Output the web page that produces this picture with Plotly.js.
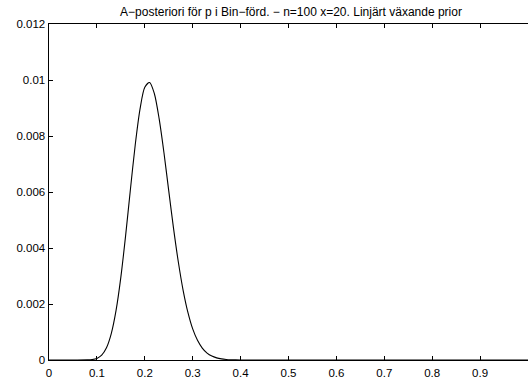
<!DOCTYPE html>
<html>
<head>
<meta charset="utf-8">
<script src="https://cdn.plot.ly/plotly-3.0.1.min.js"></script>
<style>html,body{margin:0;padding:0;background:#fff;}#chart{width:528px;height:378px;}</style>
</head>
<body>
<div id="chart"></div>
<script>
// p values (x) and posterior probabilities
const pValues = [0, 0.05, 0.08, 0.09, 0.10, 0.11, 0.12, 0.13, 0.14, 0.15, 0.16, 0.17, 0.18, 0.19, 0.20,
  0.21, 0.22, 0.23, 0.24, 0.25, 0.26, 0.27, 0.28, 0.29, 0.30, 0.31, 0.32, 0.33, 0.34, 0.35,
  0.36, 0.37, 0.38, 0.39, 0.40, 0.5, 0.6, 0.7, 0.8, 0.9, 1.0];
const posterior = [0, 0, 0.000003, 0.000015, 0.000058, 0.000174, 0.000437, 0.000943, 0.00177, 0.00296,
  0.00445, 0.00610, 0.00768, 0.00896, 0.00974, 0.00991, 0.00951, 0.00861, 0.00740, 0.00604,
  0.00470, 0.00350, 0.00249, 0.00170, 0.00111, 0.000702, 0.000426, 0.000248, 0.000139, 0.0000756,
  0.000039, 0.0000195, 0.0000094, 0.0000044, 0.000002, 0, 0, 0, 0, 0, 0];
const xTickVals = [0, 0.1, 0.2, 0.3, 0.4, 0.5, 0.6, 0.7, 0.8, 0.9];
const xTickText = ["0", "0.1", "0.2", "0.3", "0.4", "0.5", "0.6", "0.7", "0.8", "0.9"];
const yTickVals = [0, 0.002, 0.004, 0.006, 0.008, 0.01, 0.012];
const yTickText = ["0", "0.002", "0.004", "0.006", "0.008", "0.01", "0.012"];
const titleText = "A\u2212posteriori för p i Bin\u2212förd. \u2212 n=100 x=20. Linjärt växande prior";

const font = {family: "Liberation Sans, Arial, sans-serif", size: 11.5, color: "#000"};
Plotly.newPlot("chart", [{
  x: pValues, y: posterior, type: "scatter", mode: "lines",
  line: {color: "#000", width: 1.1, shape: "spline", smoothing: 0.8},
  hoverinfo: "none"
}], {
  width: 528, height: 378,
  margin: {l: 49, r: 0, t: 24, b: 18},
  paper_bgcolor: "#fff", plot_bgcolor: "#fff",
  font: font,
  showlegend: false,
  title: {text: titleText, font: {family: font.family, size: 12, color: "#000"},
    x: 291 / 528, xref: "container", xanchor: "center", y: 1 - 12 / 378, yref: "container", yanchor: "middle"},
  xaxis: {range: [0, 1], tickvals: xTickVals, ticktext: xTickText, ticks: "inside", ticklen: 4,
    tickcolor: "#000", showline: true, linecolor: "#000", linewidth: 1, mirror: "ticks",
    showgrid: false, zeroline: false, tickfont: font, ticklabelstandoff: 2},
  yaxis: {range: [0, 0.012], tickvals: yTickVals, ticktext: yTickText, ticks: "inside", ticklen: 4,
    tickcolor: "#000", showline: true, linecolor: "#000", linewidth: 1.5, mirror: false,
    showgrid: false, zeroline: false, tickfont: font}
}, {staticPlot: true, displayModeBar: false});
</script>
</body>
</html>
